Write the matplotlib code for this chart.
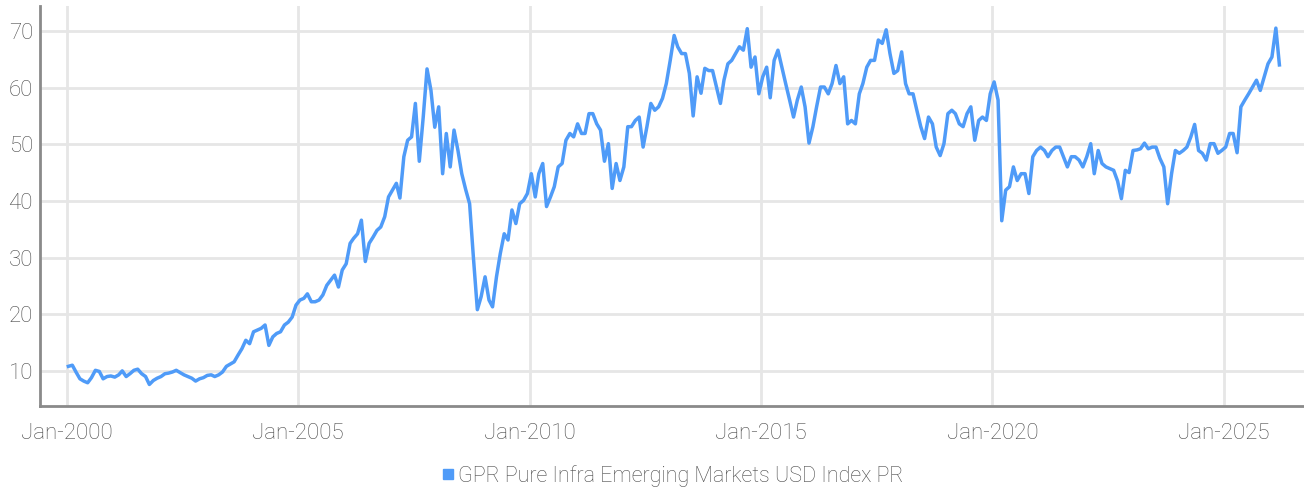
"""
GPR Pure Infra Emerging Markets USD Index PR, monthly levels 2000-2026.
"""

import matplotlib
matplotlib.use("Agg")
import matplotlib.dates as mdates
import matplotlib.pyplot as plt
import pandas as pd
from matplotlib.lines import Line2D

plt.rcParams['font.family'] = ['Roboto', 'DejaVu Sans']
plt.rcParams['font.weight'] = 'light'

# monthly values, Jan-2000 .. Mar-2026
y2000 = [10.8, 11.0, 9.8, 8.6, 8.2, 7.9, 8.8, 10.1, 9.9, 8.6, 9.0, 9.1]
y2001 = [8.9, 9.3, 10.0, 9.0, 9.5, 10.1, 10.3, 9.5, 9.0, 7.6, 8.3, 8.7]
y2002 = [9.0, 9.5, 9.6, 9.8, 10.1, 9.7, 9.3, 9.0, 8.7, 8.2, 8.6, 8.8]
y2003 = [9.2, 9.3, 9.0, 9.3, 9.8, 10.8, 11.2, 11.6, 12.8, 13.9, 15.4, 14.8]
y2004 = [16.9, 17.2, 17.5, 18.1, 14.5, 16.0, 16.6, 16.9, 18.1, 18.6, 19.5, 21.6]
y2005 = [22.5, 22.8, 23.6, 22.2, 22.2, 22.5, 23.4, 25.1, 26.0, 26.9, 24.8, 27.8]
y2006 = [28.9, 32.5, 33.4, 34.2, 36.6, 29.3, 32.5, 33.6, 34.8, 35.4, 37.2, 40.7]
y2007 = [41.9, 43.1, 40.5, 47.8, 50.7, 51.3, 57.2, 47.0, 54.8, 63.3, 59.5, 53.0]
y2008 = [56.6, 44.8, 51.9, 46.0, 52.5, 48.9, 44.8, 42.0, 39.5, 30.0, 20.8, 23.1]
y2009 = [26.6, 22.5, 21.3, 26.6, 30.7, 34.2, 33.1, 38.4, 36.0, 39.5, 40.1, 41.3]
y2010 = [44.8, 40.7, 44.8, 46.6, 39.0, 40.7, 42.5, 46.0, 46.6, 50.7, 51.9, 51.3]
y2011 = [53.6, 51.9, 51.9, 55.4, 55.4, 53.6, 52.5, 47.0, 50.1, 42.2, 46.6, 43.6]
y2012 = [46.0, 53.1, 53.1, 54.2, 54.8, 49.5, 53.1, 57.2, 56.0, 56.6, 58.1, 60.7]
y2013 = [64.8, 69.2, 67.2, 66.0, 66.0, 62.5, 55.0, 61.9, 59.0, 63.4, 63.0, 63.0]
y2014 = [60.1, 57.2, 61.3, 64.2, 64.8, 66.0, 67.2, 66.6, 70.4, 63.6, 65.4, 58.9]
y2015 = [61.9, 63.6, 58.2, 64.8, 66.6, 63.6, 60.7, 57.8, 54.8, 57.8, 60.1, 56.6]
y2016 = [50.2, 53.1, 56.6, 60.1, 60.1, 58.9, 60.7, 63.9, 60.7, 61.9, 53.6, 54.2]
y2017 = [53.6, 58.9, 60.7, 63.6, 64.8, 64.8, 68.4, 67.8, 70.2, 66.0, 62.5, 63.0]
y2018 = [66.3, 60.7, 58.9, 58.9, 56.0, 53.1, 51.0, 54.8, 53.6, 49.5, 48.0, 50.1]
y2019 = [55.4, 56.0, 55.4, 53.6, 53.1, 55.4, 56.6, 50.7, 54.2, 54.8, 54.2, 58.9]
y2020 = [61.0, 57.8, 36.5, 41.9, 42.5, 46.0, 43.6, 44.8, 44.8, 41.3, 47.8, 48.9]
y2021 = [49.5, 48.9, 47.8, 48.9, 49.5, 49.5, 47.8, 46.0, 47.8, 47.8, 47.2, 46.0]
y2022 = [47.8, 50.1, 44.8, 48.9, 46.6, 46.0, 45.7, 45.4, 43.5, 40.4, 45.4, 45.0]
y2023 = [48.9, 49.0, 49.2, 50.2, 49.2, 49.5, 49.5, 47.5, 46.0, 39.5, 44.8, 48.9]
y2024 = [48.4, 48.9, 49.5, 51.3, 53.5, 48.9, 48.4, 47.2, 50.1, 50.1, 48.4, 48.9]
y2025 = [49.5, 51.9, 51.9, 48.5, 56.6, 57.8, 58.9, 60.1, 61.3, 59.5, 61.9, 64.2]
y2026 = [65.4, 70.5, 64.0]

values = (y2000 + y2001 + y2002 + y2003 + y2004 + y2005 + y2006 + y2007
          + y2008 + y2009 + y2010 + y2011 + y2012 + y2013 + y2014 + y2015
          + y2016 + y2017 + y2018 + y2019 + y2020 + y2021 + y2022 + y2023
          + y2024 + y2025 + y2026)
dates = pd.date_range("2000-01-01", periods=len(values), freq="MS") + pd.Timedelta(days=14)

series_name = "GPR Pure Infra Emerging Markets USD Index PR"
tick_years = [2000, 2005, 2010, 2015, 2020, 2025]
y_ticks = [10, 20, 30, 40, 50, 60, 70]

line_col = "#4f9bf8"
grid_col = "#e6e6e6"
text_col = "#4a4a4a"

fig = plt.figure(figsize=(13.04, 4.91), dpi=100)
ax = fig.add_axes([40 / 1304, 85 / 491, 1264 / 1304, 400 / 491])

ax.plot(dates, values, color=line_col, lw=2.5, solid_joinstyle="round", zorder=3)

ax.set_xlim(pd.Timestamp("1999-06-05"), pd.Timestamp("2026-09-25"))
ax.set_ylim(3.8, 74.4)

ax.set_xticks([pd.Timestamp(f"{y}-01-01") for y in tick_years])
ax.xaxis.set_major_formatter(mdates.DateFormatter("%b-%Y"))
ax.set_yticks(y_ticks)

ax.grid(True, color=grid_col, lw=2)
ax.set_axisbelow(True)
ax.tick_params(length=0, labelsize=16, labelcolor=text_col)
ax.tick_params(axis="x", pad=12)
ax.tick_params(axis="y", pad=5)

for s in ["top", "right"]:
    ax.spines[s].set_visible(False)
for s in ["left", "bottom"]:
    ax.spines[s].set_color("#8a8a8a")
    ax.spines[s].set_linewidth(2)

handle = Line2D([], [], marker="s", color=line_col, linestyle="none", markersize=7)
ax.legend([handle], [series_name], loc="center", bbox_to_anchor=(0.5, -0.175),
          frameon=False, fontsize=15.5, labelcolor=text_col,
          handletextpad=0.1, handlelength=0.7)

fig.savefig("out.png", dpi=100)
